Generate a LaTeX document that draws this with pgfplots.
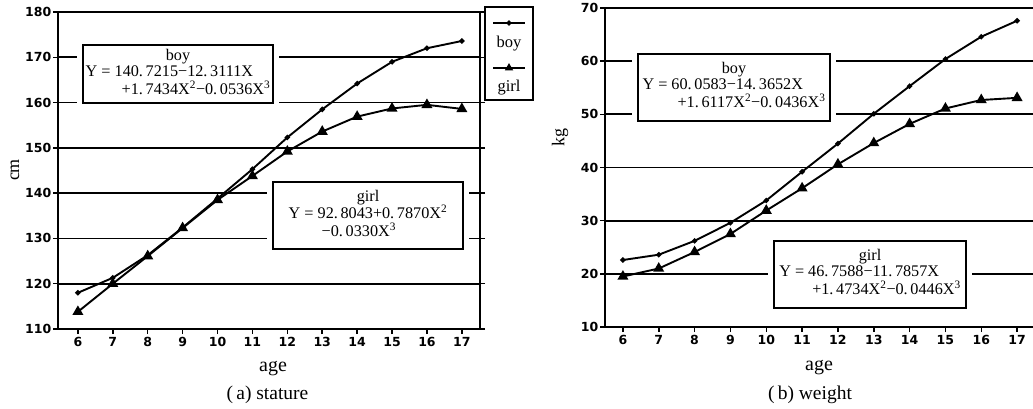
\documentclass[border=0pt]{standalone}
\usepackage{fontspec}
\setmainfont{Liberation Serif}
\newfontfamily\tickfont{DejaVu Sans}
\usepackage{pgfplots}
\pgfplotsset{compat=1.18}
\tikzset{
  boy/.style={black, line width=1.9pt, mark=*, mark size=1.6pt, mark options={solid}},
  girl/.style={black, line width=1.9pt, mark=triangle*, mark size=4.5pt, mark options={solid}},
  eqbox/.style={draw=black, line width=1.6pt, fill=white,
    preaction={draw=white, line width=12pt},
    inner sep=1pt, font=\fontsize{16.2}{17}\selectfont, align=center},
}
\pgfplotsset{
  myaxis/.style={
    scale only axis,
    axis line style={line width=2pt},
    ymajorgrids,
    grid style={line width=1.8pt, black},
    tick align=outside,
    major tick length=5pt,
    tick style={line width=1.5pt, black},
    xtick pos=bottom,
    ytick pos=both,
    xtick={6,...,17},
    ticklabel style={font=\tickfont\bfseries\fontsize{12.5}{12.5}\selectfont},
    /pgf/number format/assume math mode=true,
    yticklabel style={inner sep=1.5pt},
    xticklabel style={inner sep=2pt, yshift=-1pt},
    clip=false,
  },
}
\begin{document}
\begin{tikzpicture}[x=1pt,y=1pt]
\useasboundingbox (0,0) rectangle (1033,408);
\clip (0,0) rectangle (1033,408);

% ---------- (a) stature ----------
\begin{axis}[myaxis,
  at={(58pt,79pt)}, anchor=south west,
  width=422pt, height=317pt,
  xmin=5.43, xmax=17.52, ymin=110, ymax=180,
  ytick={110,120,...,180},
]
\addplot[boy] coordinates {(6,118.0)(7,121.3)(8,126.3)(9,132.4)(10,138.8)(11,145.3)(12,152.3)(13,158.5)(14,164.2)(15,169.0)(16,172.0)(17,173.6)};
\addplot[girl] coordinates {(6,113.8)(7,120.0)(8,126.1)(9,132.3)(10,138.5)(11,143.8)(12,149.2)(13,153.6)(14,156.9)(15,158.7)(16,159.5)(17,158.6)};
\end{axis}

% ---------- (b) weight ----------
\begin{axis}[myaxis,
  at={(605pt,81pt)}, anchor=south west,
  width=430pt, height=319pt,
  xmin=5.5, xmax=17.5, ymin=10, ymax=70,
  ytick={10,20,...,70},
]
\addplot[boy] coordinates {(6,22.6)(7,23.6)(8,26.2)(9,29.6)(10,33.8)(11,39.2)(12,44.5)(13,50.1)(14,55.3)(15,60.4)(16,64.6)(17,67.6)};
\addplot[girl] coordinates {(6,19.5)(7,21.0)(8,24.1)(9,27.5)(10,31.9)(11,36.1)(12,40.6)(13,44.6)(14,48.2)(15,51.1)(16,52.7)(17,53.1)};
\end{axis}

% ---------- equation boxes ----------
\node[eqbox, minimum width=190pt, minimum height=58pt] at (178,334)
 {\begin{tabular}{@{}l@{}}\multicolumn{1}{@{}c@{}}{boy}\\[-1pt]
  Y = 140.\,7215−12.\,3111X\\[-1pt]
  \hspace*{36pt}+1.\,7434X\textsuperscript{2}−0.\,0536X\textsuperscript{3}\end{tabular}};
\node[eqbox, minimum width=190pt, minimum height=67pt] at (368,192.5)
 {\begin{tabular}{@{}l@{}}\multicolumn{1}{@{}c@{}}{girl}\\[-1pt]
  Y = 92.\,8043+0.\,7870X\textsuperscript{2}\\[-1pt]
  \hspace*{33pt}−0.\,0330X\textsuperscript{3}\end{tabular}};
\node[eqbox, minimum width=192pt, minimum height=67pt] at (734,320.5)
 {\begin{tabular}{@{}l@{}}\multicolumn{1}{@{}c@{}}{boy}\\[-1pt]
  Y = 60.\,0583−14.\,3652X\\[-1pt]
  \hspace*{35pt}+1.\,6117X\textsuperscript{2}−0.\,0436X\textsuperscript{3}\end{tabular}};
\node[eqbox, minimum width=192pt, minimum height=67pt] at (870,133.5)
 {\begin{tabular}{@{}l@{}}\multicolumn{1}{@{}c@{}}{girl}\\[-1pt]
  Y = 46.\,7588−11.\,7857X\\[-1pt]
  \hspace*{33pt}+1.\,4734X\textsuperscript{2}−0.\,0446X\textsuperscript{3}\end{tabular}};

% ---------- legend ----------
\draw[line width=1.8pt, fill=white] (485,401) rectangle (533,308);
\draw[boy, mark indices={2}] plot coordinates {(493,385)(509,385)(525,385)};
\node[font=\fontsize{16.5}{16.5}\selectfont] at (509,364) {boy};
\draw[girl, mark size=3pt, mark indices={2}] plot coordinates {(493,340)(509,340)(525,340)};
\node[font=\fontsize{16.5}{16.5}\selectfont] at (509,320) {girl};

% ---------- labels ----------
\node[rotate=90, font=\fontsize{18}{18}\selectfont] at (15,238) {cm};
\node[rotate=90, font=\fontsize{18}{18}\selectfont] at (560,271) {kg};
\node[font=\fontsize{20}{20}\selectfont] at (273,39) {age};
\node[font=\fontsize{20}{20}\selectfont] at (819,40) {age};
\node[font=\fontsize{19.5}{19.5}\selectfont] at (267.5,13) {(\,a)\ stature};
\node[font=\fontsize{19.5}{19.5}\selectfont] at (810,13) {(\,b)\ weight};
\end{tikzpicture}
\end{document}
